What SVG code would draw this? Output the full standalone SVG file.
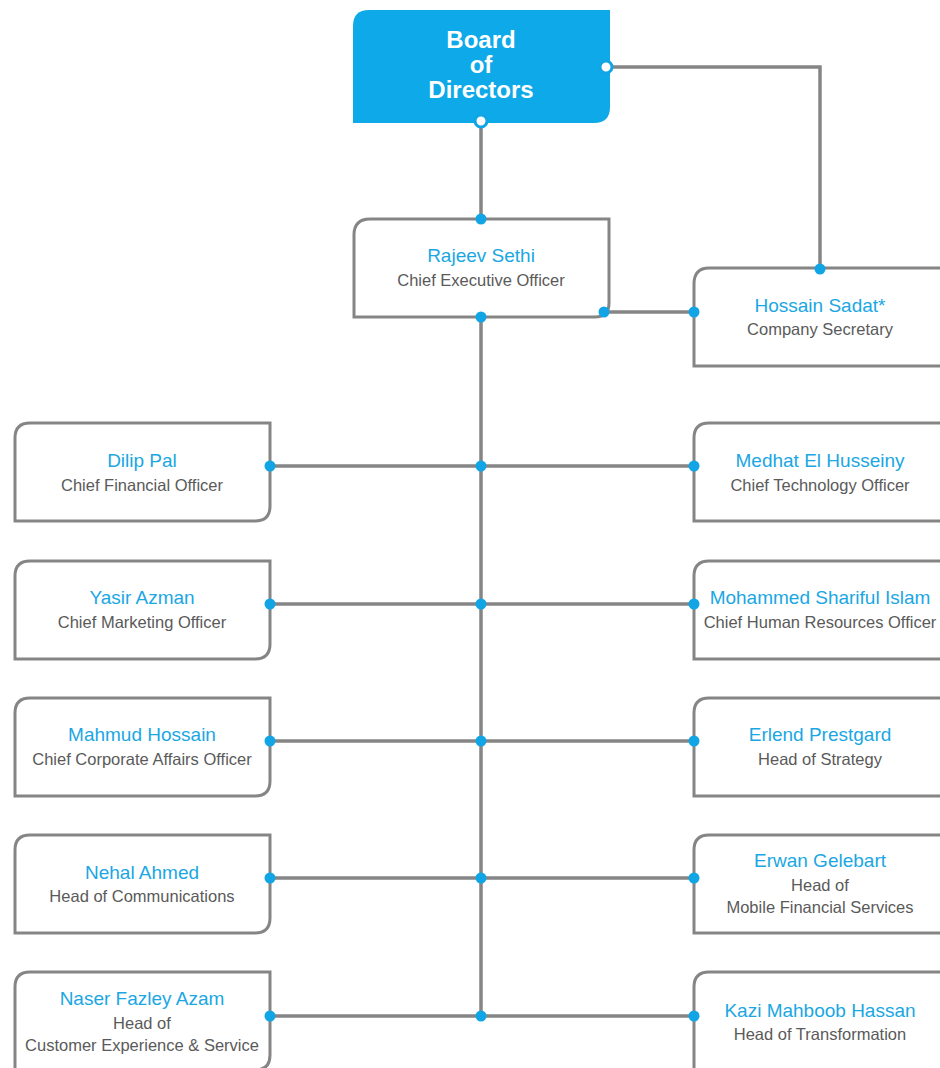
<svg xmlns="http://www.w3.org/2000/svg" width="940" height="1068" viewBox="0 0 940 1068">
<style>
.box{fill:#fff;stroke:#858585;stroke-width:3}
.line{fill:none;stroke:#858585;stroke-width:3.5}
.dot{fill:#12a5e6}
.nm{font-family:"Liberation Sans Narrow","Liberation Sans",sans-serif;font-size:19px;fill:#1aa7e3;text-anchor:middle}
.tt{font-family:"Liberation Sans Narrow","Liberation Sans",sans-serif;font-size:16.5px;fill:#5a5a5a;text-anchor:middle}
.bd{font-family:"Liberation Sans Narrow","Liberation Sans",sans-serif;font-size:24px;font-weight:bold;fill:#fff;text-anchor:middle}
</style>
<rect width="940" height="1068" fill="#fff"/>
<g id="connectors">
<path class="line" d="M481 121V1016"/>
<path class="line" d="M606 67H820V269"/>
<path class="line" d="M604 312H694"/>
<path class="line" d="M270 466H694"/>
<path class="line" d="M270 604H694"/>
<path class="line" d="M270 741H694"/>
<path class="line" d="M270 878H694"/>
<path class="line" d="M270 1016H694"/>
</g>
<g id="board">
<path d="M369 10H610V107Q610 123 594 123H353V26Q353 10 369 10Z" fill="#0ea9e8"/>
<text class="bd" x="481" y="48">Board</text>
<text class="bd" x="481" y="73">of</text>
<text class="bd" x="481" y="98">Directors</text>
</g>
<g id="ceo">
<path class="box" d="M370 219H609V303Q609 317 595 317H354V235Q354 219 370 219Z"/>
<text class="nm" x="481" y="262">Rajeev Sethi</text>
<text class="tt" x="481" y="286">Chief Executive Officer</text>
</g>
<g id="secretary">
<path class="box" d="M709 268H950V366H694V284Q694 268 709 268Z"/>
<text class="nm" x="820" y="312">Hossain Sadat*</text>
<text class="tt" x="820" y="335">Company Secretary</text>
</g>
<g id="cfo">
<path class="box" d="M30 423H270V506Q270 521 255 521H15V438Q15 423 30 423Z"/>
<text class="nm" x="142" y="467">Dilip Pal</text>
<text class="tt" x="142" y="491">Chief Financial Officer</text>
</g>
<g id="cto">
<path class="box" d="M709 423H950V521H694V438Q694 423 709 423Z"/>
<text class="nm" x="820" y="467">Medhat El Husseiny</text>
<text class="tt" x="820" y="491">Chief Technology Officer</text>
</g>
<g id="cmo">
<path class="box" d="M30 561H270V644Q270 659 255 659H15V576Q15 561 30 561Z"/>
<text class="nm" x="142" y="604">Yasir Azman</text>
<text class="tt" x="142" y="628">Chief Marketing Officer</text>
</g>
<g id="chro">
<path class="box" d="M709 561H950V659H694V576Q694 561 709 561Z"/>
<text class="nm" x="820" y="604">Mohammed Shariful Islam</text>
<text class="tt" x="820" y="628">Chief Human Resources Officer</text>
</g>
<g id="ccao">
<path class="box" d="M30 698H270V781Q270 796 255 796H15V713Q15 698 30 698Z"/>
<text class="nm" x="142" y="741">Mahmud Hossain</text>
<text class="tt" x="142" y="765">Chief Corporate Affairs Officer</text>
</g>
<g id="strategy">
<path class="box" d="M709 698H950V796H694V713Q694 698 709 698Z"/>
<text class="nm" x="820" y="741">Erlend Prestgard</text>
<text class="tt" x="820" y="765">Head of Strategy</text>
</g>
<g id="communications">
<path class="box" d="M30 835H270V918Q270 933 255 933H15V850Q15 835 30 835Z"/>
<text class="nm" x="142" y="879">Nehal Ahmed</text>
<text class="tt" x="142" y="902">Head of Communications</text>
</g>
<g id="mfs">
<path class="box" d="M709 835H950V933H694V850Q694 835 709 835Z"/>
<text class="nm" x="820" y="867">Erwan Gelebart</text>
<text class="tt" x="820" y="891">Head of</text>
<text class="tt" x="820" y="913">Mobile Financial Services</text>
</g>
<g id="customer">
<path class="box" d="M30 972H270V1055Q270 1070 255 1070H15V987Q15 972 30 972Z"/>
<text class="nm" x="142" y="1005">Naser Fazley Azam</text>
<text class="tt" x="142" y="1029">Head of</text>
<text class="tt" x="142" y="1051">Customer Experience &amp; Service</text>
</g>
<g id="transformation">
<path class="box" d="M709 972H950V1075H694V987Q694 972 709 972Z"/>
<text class="nm" x="820" y="1017">Kazi Mahboob Hassan</text>
<text class="tt" x="820" y="1040">Head of Transformation</text>
</g>
<g id="dots">
<circle class="dot" cx="481" cy="121" r="6" fill="#fff" stroke="#12a5e6" stroke-width="3" style="fill:#fff"/>
<circle class="dot" cx="606" cy="67" r="6" stroke="#12a5e6" stroke-width="3" style="fill:#fff"/>
<circle class="dot" cx="481" cy="219" r="5.5"/>
<circle class="dot" cx="481" cy="317" r="5.5"/>
<circle class="dot" cx="604" cy="312" r="5.5"/>
<circle class="dot" cx="820" cy="269" r="5.5"/>
<circle class="dot" cx="694" cy="312" r="5.5"/>
<circle class="dot" cx="270" cy="466" r="5.5"/><circle class="dot" cx="481" cy="466" r="5.5"/><circle class="dot" cx="694" cy="466" r="5.5"/>
<circle class="dot" cx="270" cy="604" r="5.5"/><circle class="dot" cx="481" cy="604" r="5.5"/><circle class="dot" cx="694" cy="604" r="5.5"/>
<circle class="dot" cx="270" cy="741" r="5.5"/><circle class="dot" cx="481" cy="741" r="5.5"/><circle class="dot" cx="694" cy="741" r="5.5"/>
<circle class="dot" cx="270" cy="878" r="5.5"/><circle class="dot" cx="481" cy="878" r="5.5"/><circle class="dot" cx="694" cy="878" r="5.5"/>
<circle class="dot" cx="270" cy="1016" r="5.5"/><circle class="dot" cx="481" cy="1016" r="5.5"/><circle class="dot" cx="694" cy="1016" r="5.5"/>
</g>
</svg>
